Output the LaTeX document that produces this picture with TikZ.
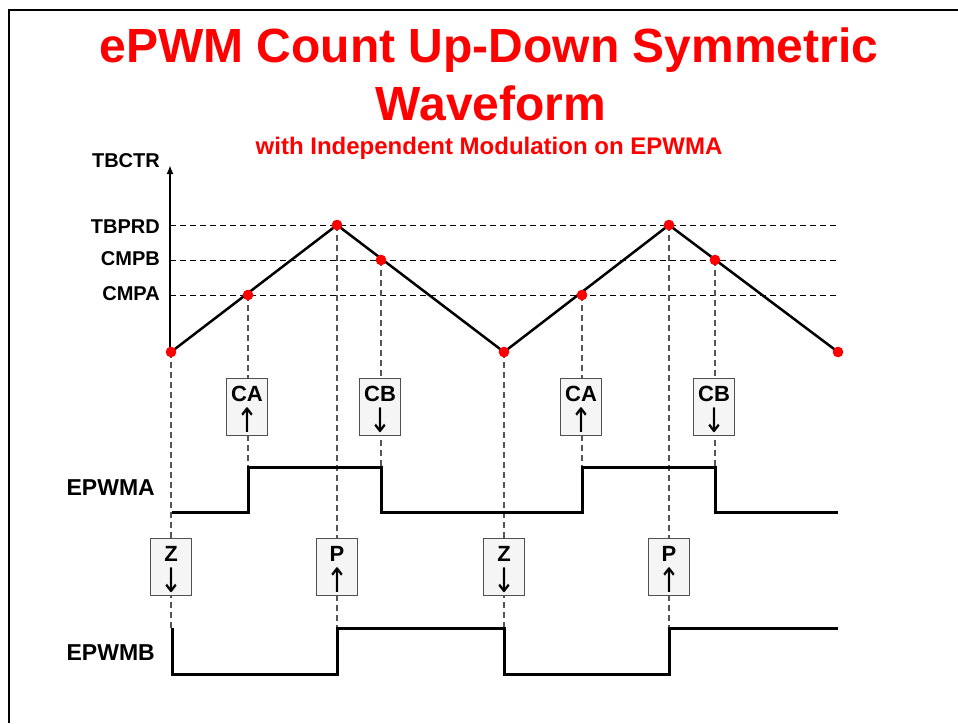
\documentclass[tikz,border=0pt]{standalone}
\usepackage{fontspec}
\setmainfont{Liberation Sans}
\newfontfamily\arrowfont{DejaVu Sans}
\usetikzlibrary{arrows.meta}
\definecolor{pred}{RGB}{255,0,0}
\definecolor{dgray}{RGB}{85,85,85}
\definecolor{boxfill}{RGB}{245,245,245}
\definecolor{boxline}{RGB}{80,80,80}
\newcommand{\upar}{\scalebox{1.05}[1.35]{\arrowfont\mdseries ↑}}
\newcommand{\dnar}{\scalebox{1.05}[1.35]{\arrowfont\mdseries ↓}}
\begin{document}
\begin{tikzpicture}[x=1pt,y=-1pt,
  dot/.style={circle,fill=pred,inner sep=0pt,minimum size=10pt},
  hdash/.style={black,line width=1pt,dash pattern=on 6pt off 4pt},
  vdash/.style={dgray,line width=1.3pt,dash pattern=on 6pt off 4pt},
  evbox/.style={draw=boxline,fill=boxfill,line width=1pt,minimum width=41pt,minimum height=57pt,inner sep=0pt},
  evtxt/.style={anchor=base,inner sep=0pt,font=\fontsize{22}{26}\selectfont\bfseries},
  evarr/.style={anchor=center,inner sep=0pt,font=\fontsize{25}{26}\selectfont},
  lbl/.style={anchor=base east,font=\fontsize{20}{24}\selectfont\bfseries,inner sep=0pt},
  siglbl/.style={anchor=base east,font=\fontsize{23}{27}\selectfont\bfseries,inner sep=0pt},
  wave/.style={line width=3pt,line join=miter},
  tri/.style={line width=2.5pt,line join=round}]
\useasboundingbox (0,0) rectangle (958,723);
% frame
\draw[line width=2pt] (9,723) -- (9,10) -- (958,10);
% titles
\node[anchor=base,text=pred,font=\fontsize{48}{58}\selectfont\bfseries,inner sep=0pt] (t1) at (489,62) {ePWM Count Up-Down Symmetric};
\node[anchor=base,text=pred,font=\fontsize{48}{58}\selectfont\bfseries,inner sep=0pt] (t2) at (491,120) {Waveform};
\node[anchor=base,text=pred,font=\fontsize{24}{28}\selectfont\bfseries,inner sep=0pt] (t3) at (489,154) {with Independent Modulation on EPWMA};
% axis labels
\node[lbl] (lctr) at (160,167) {TBCTR};
\node[lbl] (lprd) at (160,233) {TBPRD};
\node[lbl] (lcmpb) at (160,265) {CMPB};
\node[lbl] (lcmpa) at (160,300) {CMPA};
\node[siglbl] (lea) at (155,495) {EPWMA};
\node[siglbl] (leb) at (155,660) {EPWMB};
% points on the counter waveform
\node[dot] (d0) at (171,352) {};
\node[dot] (a1) at (248,295) {};
\node[dot] (p1) at (337,225) {};
\node[dot] (b1) at (381,260) {};
\node[dot] (z1) at (504,352) {};
\node[dot] (a2) at (582,295) {};
\node[dot] (p2) at (669,225) {};
\node[dot] (b2) at (715,260) {};
\node[dot] (z2) at (838,352) {};
% horizontal dashed reference lines
\draw[hdash] (170,225) -- (838,225);
\draw[hdash] (170,260) -- (838,260);
\draw[hdash] (170,295) -- (838,295);
% vertical dashed lines
\draw[vdash] (d0.center) -- (171,628);
\draw[vdash] (a1.center) -- (248,467);
\draw[vdash] (p1.center) -- (337,628);
\draw[vdash] (b1.center) -- (381,467);
\draw[vdash] (z1.center) -- (504,628);
\draw[vdash] (a2.center) -- (582,467);
\draw[vdash] (p2.center) -- (669,628);
\draw[vdash] (b2.center) -- (715,467);
% axis
\draw[line width=2.5pt,-{Latex[length=9pt,width=7pt]}] (170,352) -- (170,165);
% counter triangle
\draw[tri] (d0.center) -- (p1.center) -- (z1.center) -- (p2.center) -- (z2.center);
% dots on top
\foreach \x/\y in {171/352,248/295,337/225,381/260,504/352,582/295,669/225,715/260,838/352}
  \fill[pred] (\x,\y) circle (5.3pt);
% event boxes: box, letters, arrow
\foreach \nm/\x/\y/\txt/\ar in {eca1/247/378/CA/\upar, ecb1/380/378/CB/\dnar, eca2/581/378/CA/\upar, ecb2/714/378/CB/\dnar,
    ez1/171/538/Z/\dnar, ep1/337/538/P/\upar, ez2/504/538/Z/\dnar, ep2/669/538/P/\upar}{
  \node[evbox,anchor=north] (\nm) at (\x,\y) {};
  \node[evtxt] (\nm t) at ([yshift=-23pt]\nm.north) {\txt};
  \node[evarr] (\nm a) at ([yshift=-42pt]\nm.north) {\ar};
}
% EPWMA
\draw[wave] (172,512) -- (248,512) -- (248,467) -- (381,467) -- (381,512) -- (582,512) -- (582,467) -- (715,467) -- (715,512) -- (838,512);
% EPWMB
\draw[wave] (172,628) -- (172,674) -- (337,674) -- (337,628) -- (504,628) -- (504,674) -- (669,674) -- (669,628) -- (838,628);
\end{tikzpicture}
\end{document}
